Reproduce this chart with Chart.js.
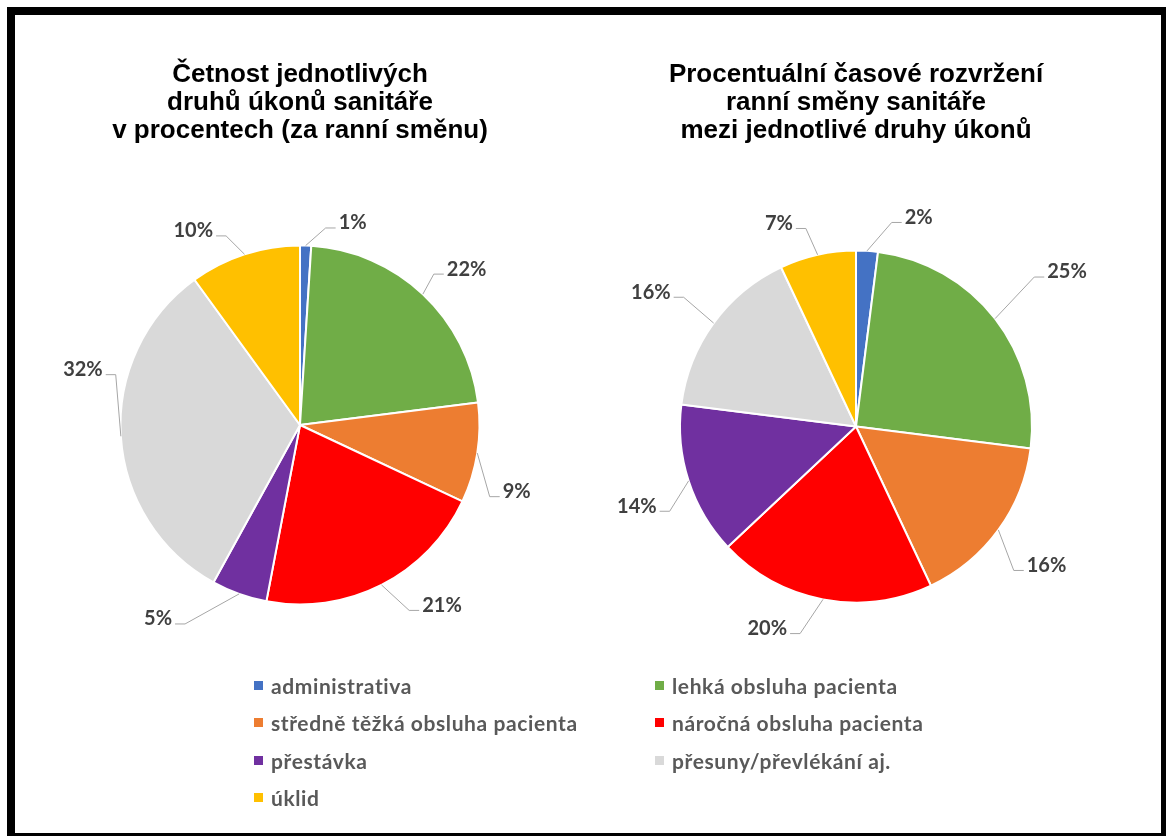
<!DOCTYPE html>
<html lang="cs">
<head>
<meta charset="utf-8">
<title>Úkony sanitáře – ranní směna</title>
<script src="https://cdn.jsdelivr.net/npm/chart.js@4.4.1/dist/chart.umd.min.js"></script>
<style>
  html, body { margin: 0; padding: 0; background: #fff; }
  body { width: 1166px; height: 836px; position: relative; overflow: hidden; }
  #frame {
    position: absolute; left: 7px; top: 7px; width: 1162px; height: 834px;
    border: 8px solid #000; box-sizing: border-box; pointer-events: none;
  }
  canvas { position: absolute; top: 40px; }
  #freq { left: 20px; }
  #time { left: 576px; }
  #legend {
    position: absolute; left: 254px; top: 667px;
    display: grid; grid-template-columns: 401px 330px; grid-auto-rows: 37.3px;
    font: bold 21px Lato, "Open Sans", sans-serif; letter-spacing: 0.6px; color: #595959;
  }
  .item { display: flex; align-items: center; white-space: nowrap; }
  .item i { display: inline-block; width: 9px; height: 9px; margin-right: 8px; flex: none; }
</style>
</head>
<body>
<canvas id="freq" width="560" height="655"></canvas>
<canvas id="time" width="560" height="658"></canvas>
<div id="legend"></div>
<div id="frame"></div>
<script>
// Activity categories of an orderly's morning shift
const categories = [
  'administrativa',
  'lehká obsluha pacienta',
  'středně těžká obsluha pacienta',
  'náročná obsluha pacienta',
  'přestávka',
  'přesuny/převlékání aj.',
  'úklid'
];

// Share of individual tasks by count (%)
const frequencyShare = [1, 22, 9, 21, 5, 32, 10];
// Share of shift time spent on each task type (%)
const timeShare = [2, 25, 16, 20, 14, 16, 7];

const sliceColors = ['#4472C4', '#70AD47', '#ED7D31', '#FF0000', '#7030A0', '#D9D9D9', '#FFC000'];

const frequencyTitle = ['Četnost jednotlivých', 'druhů úkonů sanitáře', 'v procentech (za ranní směnu)'];
const timeTitle = ['Procentuální časové rozvržení', 'ranní směny sanitáře', 'mezi jednotlivé druhy úkonů'];

// Where each percentage label sits: [angle shift from slice middle in degrees, distance as multiple of radius]
const frequencyLabelPlacement = [[12.8, 1.163], [3.7, 1.271], [8.1, 1.263], [-11.2, 1.279], [16.4, 1.339], [17.9, 1.248], [-10.8, 1.234]];
const timeLabelPlacement = [[13.1, 1.24], [1.6, 1.486], [0.1, 1.34], [12.9, 1.254], [-2.0, 1.325], [-2.8, 1.393], [-8.2, 1.234]];

// Percentage labels outside the pie, joined to their slice with an elbow leader line
const leaderLabels = {
  id: 'leaderLabels',
  afterDatasetsDraw(chart, args, opts) {
    const ctx = chart.ctx;
    const meta = chart.getDatasetMeta(0);
    const values = chart.data.datasets[0].data;
    ctx.save();
    ctx.font = opts.font;
    ctx.textBaseline = 'middle';
    ctx.textAlign = 'center';
    meta.data.forEach((arc, i) => {
      const { x, y, startAngle, endAngle, outerRadius } =
        arc.getProps(['x', 'y', 'startAngle', 'endAngle', 'outerRadius'], true);
      const mid = (startAngle + endAngle) / 2;
      const ax = x + Math.cos(mid) * outerRadius;
      const ay = y + Math.sin(mid) * outerRadius;
      const [shift, dist] = opts.placement[i];
      const la = mid + shift * Math.PI / 180;
      const lx = x + Math.cos(la) * outerRadius * dist;
      const ly = y + Math.sin(la) * outerRadius * dist;
      const text = values[i] + '%';
      const w = ctx.measureText(text).width;
      const onRight = lx >= ax;
      const ex = onRight ? lx - w / 2 - 3 : lx + w / 2 + 3;
      const ey = ly + 5;
      const bx = onRight ? ex - 10 : ex + 10;
      ctx.strokeStyle = opts.lineColor;
      ctx.lineWidth = 1;
      ctx.beginPath();
      ctx.moveTo(ax, ay);
      ctx.lineTo(bx, ey);
      ctx.lineTo(ex, ey);
      ctx.stroke();
      ctx.fillStyle = opts.color;
      ctx.fillText(text, lx, ly);
    });
    ctx.restore();
  }
};

function pieConfig(values, title, radius, placement) {
  return {
    type: 'pie',
    data: {
      labels: categories,
      datasets: [{
        data: values,
        backgroundColor: sliceColors,
        borderColor: '#ffffff',
        borderWidth: 2
      }]
    },
    options: {
      responsive: false,
      animation: false,
      events: [],
      radius: radius,
      layout: { padding: 0 },
      plugins: {
        legend: { display: false },
        tooltip: { enabled: false },
        title: {
          display: true,
          text: title,
          color: '#000000',
          font: { family: '"Liberation Sans", Arial, sans-serif', size: 26, weight: 'bold', lineHeight: 28 / 26 },
          padding: { top: 21, bottom: 10 }
        },
        leaderLabels: {
          placement: placement,
          font: 'bold 20px Lato, "Open Sans", sans-serif',
          color: '#404040',
          lineColor: '#A6A6A6'
        }
      }
    },
    plugins: [leaderLabels]
  };
}

const freqChart = new Chart(document.getElementById('freq'),
  pieConfig(frequencyShare, frequencyTitle, 179.5, frequencyLabelPlacement));
new Chart(document.getElementById('time'),
  pieConfig(timeShare, timeTitle, 176, timeLabelPlacement));

// Shared legend, built from the library's own legend items
const legendEl = document.getElementById('legend');
Chart.overrides.pie.plugins.legend.labels.generateLabels(freqChart).forEach(item => {
  const div = document.createElement('div');
  div.className = 'item';
  const swatch = document.createElement('i');
  swatch.style.background = item.fillStyle;
  div.appendChild(swatch);
  div.appendChild(document.createTextNode(item.text));
  legendEl.appendChild(div);
});
</script>
</body>
</html>
